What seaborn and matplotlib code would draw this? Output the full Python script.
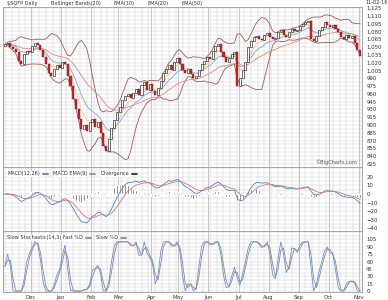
import numpy as np
import pandas as pd
import matplotlib
matplotlib.use("Agg")
import matplotlib.pyplot as plt
import seaborn as sns

# ---- data (closes, one value per two trading days) ----
close = [1055, 1058, 1050, 1046, 1040, 1024, 1018, 1036, 1042, 1040,
         1052, 1058, 1054, 1044, 1030, 1018, 1000, 994, 1008, 1015,
         1010, 1022, 1018, 995, 975, 950, 930, 912, 893, 900,
         888, 905, 912, 896, 905, 885, 860, 850, 872, 895,
         910, 925, 935, 948, 955, 960, 952, 962, 970, 958,
         976, 982, 968, 978, 965, 958, 972, 985, 1000, 1008,
         1016, 1006, 1022, 1028, 1018, 1005, 1000, 1008, 998, 990,
         994, 1005, 1018, 1024, 1030, 1026, 1042, 1052, 1055, 1040,
         1030, 1022, 1028, 1036, 1040, 975, 990, 1005, 1022, 1050,
         1062, 1070, 1072, 1066, 1064, 1074, 1076, 1070, 1066, 1068,
         1078, 1082, 1074, 1070, 1078, 1084, 1080, 1082, 1090, 1094,
         1098, 1100, 1066, 1062, 1072, 1082, 1088, 1098, 1092, 1088,
         1092, 1084, 1078, 1070, 1066, 1074, 1068, 1072, 1058, 1045,
         1032]
end_date = "2016-11-02"
price_ticks = [825, 840, 855, 870, 885, 900, 915, 930, 945, 960, 975, 990,
               1005, 1020, 1035, 1050, 1065, 1080, 1095, 1110, 1125]
macd_ticks = [-40, -30, -20, -10, 0, 10, 20]
stoch_ticks = [0, 15, 30, 45, 60, 75, 90, 105]

n = len(close)
dates = pd.date_range(end=end_date, periods=n, freq="2B")
df = pd.DataFrame({"i": np.arange(n), "close": close}, index=dates)
df["open"] = df["close"].shift(1).fillna(df["close"].iloc[0] - 3)
df["ema10"] = df["close"].ewm(span=5, adjust=False).mean()
df["ema20"] = df["close"].ewm(span=10, adjust=False).mean()
df["ema50"] = df["close"].ewm(span=25, adjust=False).mean()
mid = df["close"].rolling(10, min_periods=1).mean()
sd = df["close"].rolling(10, min_periods=1).std(ddof=0)
df["bb_up"] = mid + 2 * sd
df["bb_lo"] = mid - 2 * sd
df["macd"] = df["close"].ewm(span=6, adjust=False).mean() - df["close"].ewm(span=13, adjust=False).mean()
df["signal"] = df["macd"].ewm(span=6, adjust=False).mean()
df["hist"] = df["macd"] - df["signal"]
lo = df["close"].rolling(7, min_periods=1).min()
hi = df["close"].rolling(7, min_periods=1).max()
fastk = (100 * (df["close"] - lo) / (hi - lo).replace(0, np.nan)).fillna(50)
df["k"] = fastk.rolling(2, min_periods=1).mean()
df["d"] = df["k"].rolling(2, min_periods=1).mean()

month_idx = [i for i in range(1, n) if dates[i].month != dates[i - 1].month]
month_lab = [dates[i].strftime("%b") for i in month_idx]

# ---- figure ----
sns.set_style("white")
plt.rcParams["font.family"] = ["DejaVu Sans"]
W, H = 388, 300
fig = plt.figure(figsize=(W / 100, H / 100), dpi=100)

def axes_px(x0, y0, x1, y1):
    return fig.add_axes([x0 / W, 1 - y1 / H, (x1 - x0) / W, (y1 - y0) / H])

ax1 = axes_px(3, 7, 362, 167)
ax2 = axes_px(3, 167, 362, 231)
ax3 = axes_px(3, 231, 362, 292)

gridc = "#cfcfcf"
for ax in (ax1, ax2, ax3):
    ax.set_xlim(-0.7, n - 0.3)
    ax.set_facecolor("white")
    for s in ax.spines.values():
        s.set_color("#9a9a9a")
        s.set_linewidth(0.6)
    for w in np.arange(0, n, 2.5):
        ax.axvline(w, color=gridc, lw=0.35, zorder=0)
    for m in month_idx:
        ax.axvline(m - 0.5, color="#a8a8a8", lw=0.45, zorder=0)
    ax.yaxis.tick_right()
    ax.tick_params(axis="y", length=0, labelsize=3.9, colors="#333333", pad=3)
    ax.set_xticks([])

# main price panel
ax1.set_ylim(819, 1127)
ax1.set_yticks(price_ticks)
ax1.set_yticklabels([f"{v:,}" for v in price_ticks])
for v in np.arange(817.5, 1130, 7.5):
    ax1.axhline(v, color=gridc, lw=0.35, zorder=0)
body_lo = np.minimum(df["open"], df["close"])
body_h = np.abs(df["close"] - df["open"]).clip(lower=1.2)
up = df["close"] >= df["open"]
ax1.bar(df["i"][up], body_h[up], bottom=body_lo[up], width=0.75,
        facecolor="white", edgecolor="#202020", linewidth=0.45, zorder=4)
ax1.bar(df["i"][~up], body_h[~up], bottom=body_lo[~up], width=0.75,
        facecolor="#c0282d", edgecolor="#7a1a1a", linewidth=0.3, zorder=4)
sns.lineplot(data=df, x="i", y="bb_up", ax=ax1, color="#a35a55", lw=0.6, zorder=3)
sns.lineplot(data=df, x="i", y="bb_lo", ax=ax1, color="#a35a55", lw=0.6, zorder=3)
sns.lineplot(data=df, x="i", y="ema10", ax=ax1, color="#e8c87a", lw=0.5, zorder=3)
sns.lineplot(data=df, x="i", y="ema20", ax=ax1, color="#7fa7dd", lw=0.6, zorder=3)
sns.lineplot(data=df, x="i", y="ema50", ax=ax1, color="#e08a8a", lw=0.6, zorder=3)

# MACD panel
ax2.set_ylim(-43, 31.5)
ax2.set_yticks(macd_ticks)
for v in np.arange(-45, 35, 5):
    ax2.axhline(v, color=gridc, lw=0.35, zorder=0)
ax2.bar(df["i"], df["hist"], width=0.7, color="#555555", zorder=3)
sns.lineplot(data=df, x="i", y="macd", ax=ax2, color="#5b7fc8", lw=0.6, zorder=4)
sns.lineplot(data=df, x="i", y="signal", ax=ax2, color="#d07a7a", lw=0.6, zorder=4)
ax2.axhline(0, color="#555555", lw=0.4, zorder=2)

# Stochastic panel
ax3.set_ylim(-2, 122)
ax3.set_yticks(stoch_ticks)
for v in np.arange(0, 122, 7.5):
    ax3.axhline(v, color=gridc, lw=0.35, zorder=0)
sns.lineplot(data=df, x="i", y="k", ax=ax3, color="#6f8fd8", lw=0.6, zorder=4)
sns.lineplot(data=df, x="i", y="d", ax=ax3, color="#8a8a8a", lw=0.6, zorder=4)
ax3.set_xticks([m - 0.5 for m in month_idx])
ax3.set_xticklabels(month_lab)
ax3.tick_params(axis="x", length=0, labelsize=3.9, colors="#333333", pad=2)

for ax in (ax1, ax2, ax3):
    ax.set_xlabel("")
    ax.set_ylabel("")

# legends
def legend_row(ax, items, y, x=0.012, fs=3.6):
    fig.canvas.draw()
    r = fig.canvas.get_renderer()
    inv = ax.transAxes.inverted()
    for label, col in items:
        t = ax.text(x, y, label, transform=ax.transAxes, fontsize=fs, color="#333333",
                    va="top", ha="left", zorder=10,
                    bbox=dict(facecolor="white", edgecolor="none", pad=0.3))
        bb = t.get_window_extent(r)
        x1, ym = inv.transform((bb.x1, (bb.y0 + bb.y1) / 2))
        ax.plot([x1 + 0.008, x1 + 0.023], [ym, ym],
                transform=ax.transAxes, color=col, lw=1.3, zorder=11)
        x = x1 + 0.036

legend_row(ax1, [("$SOFP Daily", "#303030"), ("Bollinger Bands(20)", "#8a4a45"),
                 ("EMA(10)", "#e8c87a"), ("EMA(20)", "#7fa7dd"), ("EMA(50)", "#e08a8a")],
           y=1.035)
legend_row(ax2, [("MACD(12,26)", "#5b7fc8"), ("MACD EMA(9)", "#d07a7a"),
                 ("Divergence", "#303030")], y=0.93)
legend_row(ax3, [("Slow Stochastic(14,3) Fast %D", "#6f8fd8"), ("Slow %D", "#8a8a8a")], y=0.93)

fig.text(366 / W, 1 - 3 / H, "11-02-16", fontsize=3.6, color="#333333", va="center", ha="left")
ax1.text(0.985, 0.015, "\u00a9BigCharts.com", transform=ax1.transAxes, fontsize=3.6,
         color="#555555", ha="right", va="bottom", zorder=10)

fig.savefig("out.png", dpi=100)
